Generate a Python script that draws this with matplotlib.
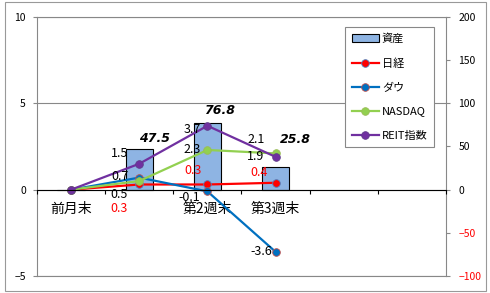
"""Weekly asset / index change chart (Excel-style combo: bars on right axis, lines on left)."""
import numpy as np
import matplotlib
matplotlib.use("Agg")
import matplotlib.pyplot as plt  # noqa: E402
from matplotlib.patches import Rectangle  # noqa: E402

plt.rcParams["font.family"] = ["Noto Sans CJK JP", "DejaVu Sans"]

categories = ["前月末", "", "第2週末", "第3週末", "", ""]
assets = [0, 47.5, 76.8, 25.8]
nikkei = [0, 0.3, 0.3, 0.4]
dow = [0, 0.7, -0.1, -3.6]
nasdaq = [0, 0.5, 2.3, 2.1]
reit = [0, 1.5, 3.7, 1.9]
left_ticks = [-5, 0, 5, 10]
right_ticks = [-100, -50, 0, 50, 100, 150, 200]

# label offsets (pixels: dx to right edge of text, dy downwards) for points 1..3
lines = [
    ("日経", nikkei, "#FF0000", "#4F81BD", "#FF0000", [(-11, 24), (-6, -14), (-8, -10)]),
    ("ダウ", dow, "#0070C0", "#C0504D", "black", [(-11, -1), (-7, 6.5), (-3, 0)]),
    ("NASDAQ", nasdaq, "#92D050", "#9BBB59", "black", [(-11, 13), (-7, 0), (-11, -13.5)]),
    ("REIT指数", reit, "#7030A0", "#5F3C8A", "black", [(-11, -10), (-7, 3.5), (-11, 0)]),
]
bar_offsets = [(15.5, -10), (12, -12.5), (19.5, -27.5)]
PX = 0.72  # points per pixel at dpi 100

fig = plt.figure(figsize=(4.9, 2.93), dpi=100)
ax = fig.add_axes([0.0755, 0.058, 0.8347, 0.884])
ax2 = ax.twinx()
ax.set_zorder(ax2.get_zorder() + 1)
ax.patch.set_visible(False)

x = np.arange(len(assets))
bars = ax2.bar(x, assets, width=0.4, color="#8EB4E3", edgecolor="black", lw=0.8,
               label="資産")
for xi, v, (dx, dy) in zip(x[1:], assets[1:], bar_offsets):
    ax2.annotate(f"{v:.1f}", (xi, v), xytext=(dx * PX, -dy * PX), textcoords="offset points",
                 ha="center", va="center", fontsize=9, fontweight="bold", fontstyle="italic",
                 family="DejaVu Sans")

handles = [bars]
for name, vals, col, edge, tcol, offs in lines:
    h, = ax.plot(x, vals, "-o", color=col, lw=1.6, ms=5.5, mec=edge, mew=0.6, label=name)
    handles.append(h)
    for xi, v, (dx, dy) in zip(x[1:], vals[1:], offs):
        ax.annotate(f"{v:.1f}", (xi, v), xytext=(dx * PX, -dy * PX), textcoords="offset points",
                    ha="right", va="center", fontsize=9, color=tcol)

ax.set_xlim(-0.5, len(categories) - 0.5)
ax.set_ylim(-5, 10)
ax2.set_ylim(-100, 200)
ax.set_yticks(left_ticks)
ax2.set_yticks(right_ticks)
for lbl, t in zip(ax2.get_yticklabels(), right_ticks):
    lbl.set_color("red" if t < 0 else "black")

ax.set_xticks(np.arange(-0.5, len(categories)))
ax.set_xticklabels([])
ax.set_xticks(np.arange(len(categories)), minor=True)
ax.set_xticklabels(categories, minor=True, fontsize=9)
ax.tick_params(axis="x", which="major", direction="out", length=3, color="black")
ax.tick_params(axis="x", which="minor", length=0, pad=9)
ax.tick_params(axis="y", length=3, color="#888888", labelsize=7.5, pad=5)
ax2.tick_params(axis="y", length=3, color="#888888", labelsize=7.5, pad=6)

ax.yaxis.grid(True, color="#888888", lw=0.8)
ax.set_axisbelow(True)
for s in ["left", "right", "top"]:
    ax.spines[s].set_visible(False)
ax.spines["bottom"].set_position(("data", 0))
ax.spines["bottom"].set_color("black")
for s in ax2.spines.values():
    s.set_color("#888888")

leg = ax.legend(handles=handles, loc="upper left", bbox_to_anchor=(0.74, 0.984),
                fontsize=8, fancybox=False, framealpha=1, edgecolor="#888888",
                labelspacing=1.25, handlelength=2.4, handletextpad=0.3, borderpad=0.6)
leg.get_frame().set_linewidth(0.8)

fig.patches.append(Rectangle((5 / 490, 2 / 293), 481 / 490, 289 / 293, transform=fig.transFigure,
                             fill=False, edgecolor="#999999", lw=0.8))

fig.savefig("out.png", dpi=100)
